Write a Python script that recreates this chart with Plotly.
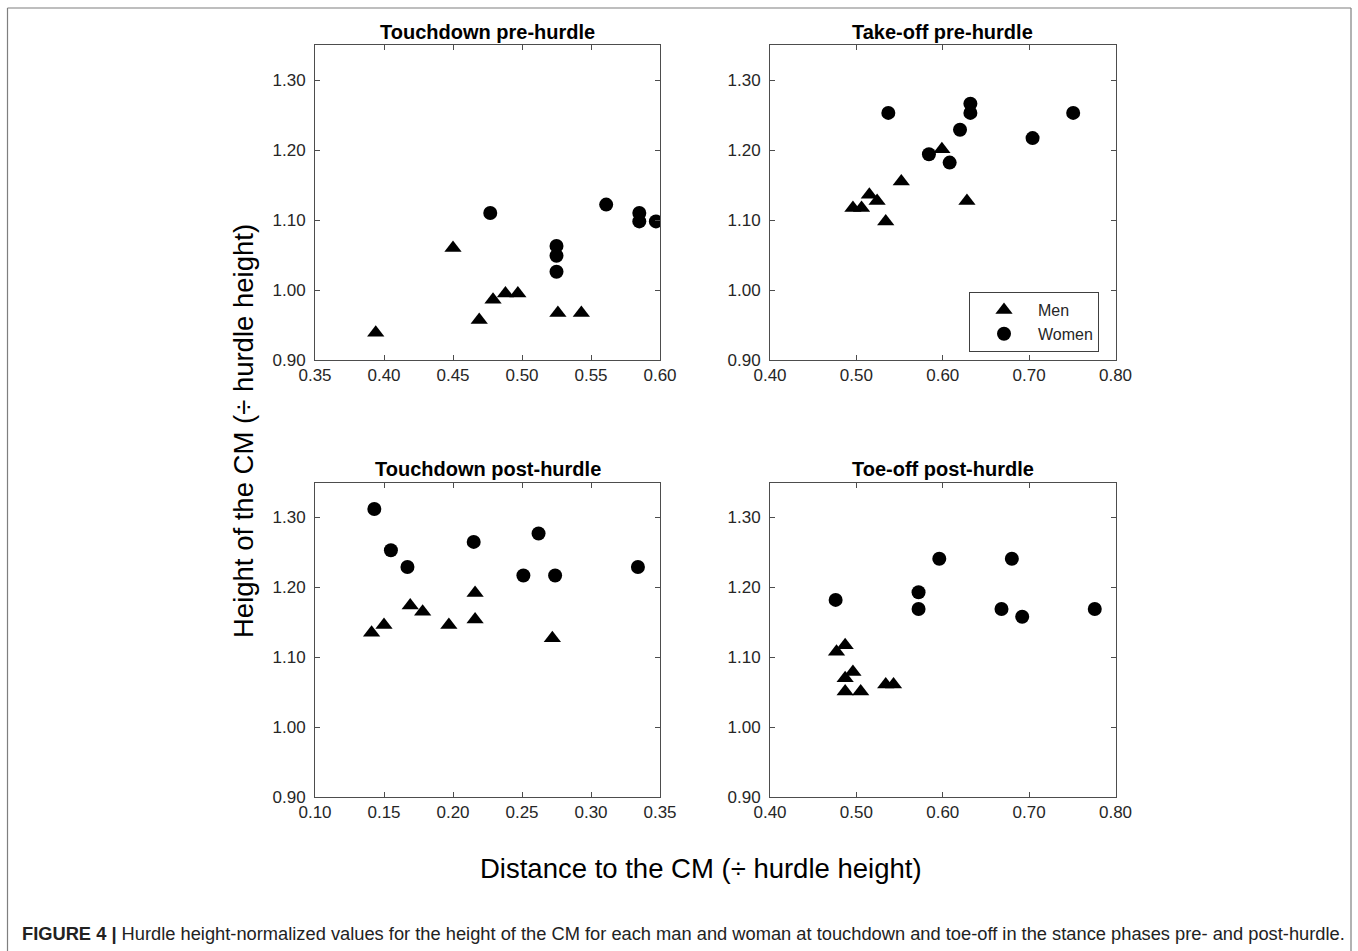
import plotly.graph_objects as go

W, H = 1358, 951

# ---------------- data ----------------
panel_titles = ["Touchdown pre-hurdle", "Take-off pre-hurdle",
                "Touchdown post-hurdle", "Toe-off post-hurdle"]

# Touchdown pre-hurdle
td_pre_men_x = [0.394, 0.450, 0.469, 0.479, 0.488, 0.497, 0.526, 0.543]
td_pre_men_y = [0.939, 1.060, 0.957, 0.986, 0.995, 0.995, 0.967, 0.967]
td_pre_women_x = [0.477, 0.525, 0.525, 0.525, 0.561, 0.585, 0.585, 0.597]
td_pre_women_y = [1.110, 1.063, 1.049, 1.026, 1.122, 1.110, 1.098, 1.098]

# Take-off pre-hurdle
to_pre_men_x = [0.496, 0.506, 0.515, 0.524, 0.534, 0.552, 0.599, 0.628]
to_pre_men_y = [1.117, 1.117, 1.136, 1.127, 1.098, 1.155, 1.201, 1.127]
to_pre_women_x = [0.537, 0.584, 0.608, 0.620, 0.632, 0.632, 0.704, 0.751]
to_pre_women_y = [1.253, 1.194, 1.182, 1.229, 1.266, 1.253, 1.217, 1.253]

# Touchdown post-hurdle
td_post_men_x = [0.141, 0.150, 0.169, 0.178, 0.197, 0.216, 0.216, 0.272]
td_post_men_y = [1.135, 1.146, 1.174, 1.165, 1.146, 1.192, 1.154, 1.127]
td_post_women_x = [0.143, 0.155, 0.167, 0.215, 0.251, 0.262, 0.274, 0.334]
td_post_women_y = [1.312, 1.253, 1.229, 1.265, 1.217, 1.277, 1.217, 1.229]

# Toe-off post-hurdle
to_post_men_x = [0.477, 0.487, 0.487, 0.496, 0.487, 0.505, 0.534, 0.543]
to_post_men_y = [1.108, 1.117, 1.070, 1.079, 1.051, 1.051, 1.061, 1.061]
to_post_women_x = [0.476, 0.572, 0.572, 0.596, 0.668, 0.680, 0.692, 0.776]
to_post_women_y = [1.182, 1.193, 1.169, 1.241, 1.169, 1.241, 1.158, 1.169]

x_ranges = [[0.35, 0.60], [0.40, 0.80], [0.10, 0.35], [0.40, 0.80]]
x_dticks = [0.05, 0.10, 0.05, 0.10]
y_range = [0.90, 1.35]
y_ticks = [0.90, 1.00, 1.10, 1.20, 1.30]

series = [
    (td_pre_men_x, td_pre_men_y, td_pre_women_x, td_pre_women_y),
    (to_pre_men_x, to_pre_men_y, to_pre_women_x, to_pre_women_y),
    (td_post_men_x, td_post_men_y, td_post_women_x, td_post_women_y),
    (to_post_men_x, to_post_men_y, to_post_women_x, to_post_women_y),
]

y_label = "Height of the CM (÷ hurdle height)"
x_label = "Distance to the CM (÷ hurdle height)"
caption_bold = "FIGURE 4 |"
caption_text = (" Hurdle height-normalized values for the height of the CM for each man and woman "
                "at touchdown and toe-off in the stance phases pre- and post-hurdle.")

# ---------------- layout geometry (pixels) ----------------
def px_x(p):
    return p / W

def px_y(p):
    return 1 - p / H

boxes = [  # (left, right, top, bottom) in px
    (315, 660, 45, 360),
    (770, 1115.5, 45, 360),
    (315, 660, 482.5, 797),
    (770, 1115.5, 482.5, 797),
]
title_centers_y = [31.5, 31.5, 469, 469]

AX_COL = "#4d4d4d"
TXT_COL = "#262626"
FONT = "Liberation Sans, Arial, sans-serif"

fig = go.Figure()
layout = dict(
    template="none",
    width=W, height=H,
    margin=dict(l=0, r=0, t=0, b=0, pad=0, autoexpand=False),
    paper_bgcolor="white", plot_bgcolor="white",
    showlegend=True,
    font=dict(family=FONT, color=TXT_COL),
)

annotations = []
for i, (mx, my, wx, wy) in enumerate(series):
    n = i + 1
    xa = "x" if n == 1 else f"x{n}"
    ya = "y" if n == 1 else f"y{n}"
    fig.add_trace(go.Scatter(
        x=mx, y=my, mode="markers", name="Men", legendgroup="men",
        showlegend=(i == 1), xaxis=xa, yaxis=ya,
        marker=dict(symbol="triangle-up", size=15, color="black", line=dict(width=0)),
    ))
    fig.add_trace(go.Scatter(
        x=wx, y=wy, mode="markers", name="Women", legendgroup="women",
        showlegend=(i == 1), xaxis=xa, yaxis=ya,
        marker=dict(symbol="circle", size=14, color="black", line=dict(width=0)),
    ))
    l, r, t, b = boxes[i]
    xkey = "xaxis" if n == 1 else f"xaxis{n}"
    ykey = "yaxis" if n == 1 else f"yaxis{n}"
    layout[xkey] = dict(
        domain=[px_x(l), px_x(r)], anchor=ya, range=x_ranges[i],
        dtick=x_dticks[i], tick0=0, tickformat=".2f", automargin=False,
        showgrid=False, zeroline=False, showline=True, linecolor=AX_COL, linewidth=1,
        mirror="ticks", ticks="inside", ticklen=5, tickcolor=AX_COL, tickwidth=1,
        tickfont=dict(size=17, color=TXT_COL, family=FONT),
    )
    layout[ykey] = dict(
        domain=[px_y(b), px_y(t)], anchor=xa, range=y_range,
        tickvals=y_ticks, tickformat=".2f", automargin=False,
        showgrid=False, zeroline=False, showline=True, linecolor=AX_COL, linewidth=1,
        mirror="ticks", ticks="inside", ticklen=5, tickcolor=AX_COL, tickwidth=1,
        ticklabelstandoff=5,
        tickfont=dict(size=17, color=TXT_COL, family=FONT),
    )
    annotations.append(dict(
        text=f"<b>{panel_titles[i]}</b>", xref="paper", yref="paper",
        x=px_x((l + r) / 2), y=px_y(title_centers_y[i]), xanchor="center", yanchor="middle",
        showarrow=False, font=dict(size=20, color="black", family=FONT),
    ))

annotations.append(dict(
    text=y_label, xref="paper", yref="paper", x=px_x(243), y=px_y(431),
    xanchor="center", yanchor="middle", textangle=-90, showarrow=False,
    font=dict(size=27.5, color="black", family=FONT),
))
annotations.append(dict(
    text=x_label, xref="paper", yref="paper", x=px_x(701), y=px_y(868),
    xanchor="center", yanchor="middle", showarrow=False,
    font=dict(size=27.5, color="black", family=FONT),
))
annotations.append(dict(
    text=f"<b>{caption_bold}</b>{caption_text}", xref="paper", yref="paper",
    x=px_x(20), y=px_y(933), xanchor="left", yanchor="middle", showarrow=False,
    font=dict(size=18.3, color="#222222", family="Liberation Sans Narrow, Arial Narrow, Liberation Sans, sans-serif"),
))

layout["annotations"] = annotations
frame = dict(color="#7f7f7f", width=1.2)
layout["shapes"] = [
    dict(type="line", xref="paper", yref="paper", x0=px_x(7.5), x1=px_x(7.5),
         y0=0, y1=px_y(8), line=frame),
    dict(type="line", xref="paper", yref="paper", x0=px_x(1351), x1=px_x(1351),
         y0=0, y1=px_y(8), line=frame),
    dict(type="line", xref="paper", yref="paper", x0=px_x(7.5), x1=px_x(1351),
         y0=px_y(8), y1=px_y(8), line=frame),
]
layout["legend"] = dict(
    x=px_x(969), y=px_y(292), xanchor="left", yanchor="top",
    bgcolor="white", bordercolor="#404040", borderwidth=1,
    font=dict(size=16, color=TXT_COL, family=FONT),
    itemwidth=58, tracegroupgap=0,
)

fig.update_layout(**layout)
fig.write_html(
    "out.html",
    config={"displayModeBar": False},
    post_script="document.body.style.margin='0';document.body.style.overflow='hidden';",
)
